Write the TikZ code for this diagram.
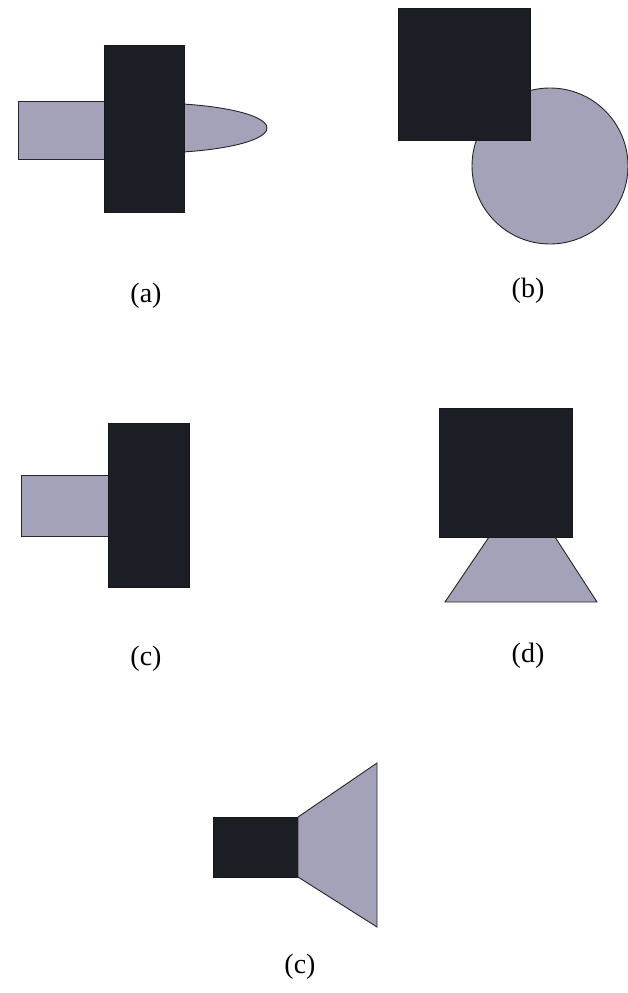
\documentclass[tikz,border=0pt]{standalone}
\usepackage{fontspec}
\setmainfont{Liberation Serif}
\usepackage{tikz}
\usetikzlibrary{positioning}

\definecolor{darkblock}{RGB}{28,30,38}
\definecolor{lightblock}{RGB}{163,162,185}

\tikzset{
    darkpart/.style={fill=darkblock,draw=darkblock!80!black,thin},
    lightpart/.style={fill=lightblock,draw=black!85,line width=0.9pt},
    caption/.style={font=\fontsize{28}{32}\selectfont}
}

\begin{document}
\begin{tikzpicture}[x=1pt,y=-1pt]
        \useasboundingbox (0,0) rectangle (628,993);

        % (a)
        \draw[lightpart] (150,128) ellipse (117 and 25);
        \draw[lightpart] (18,101) rectangle (150,159);
        \fill[darkpart] (104,45) rectangle (184,212);
        \node[caption] (capa) at (146,296) {(a)};

        % (b)
        \draw[lightpart] (550,166) circle (78);
        \fill[darkpart] (398,8) rectangle (530,140);
        \node[caption] (capb) at (528,291) {(b)};

        % (c)
        \draw[lightpart] (21,475) rectangle (112,536);
        \fill[darkpart] (108,423) rectangle (189,587);
        \node[caption] (capc) at (146,659) {(c)};

        % (d)
        \draw[lightpart] (489,537) -- (555,537) -- (597,602) -- (445,602) -- cycle;
        \fill[darkpart] (439,408) rectangle (572,537);
        \node[caption] (capd) at (528,656) {(d)};

        % (e)
        \fill[darkpart] (213,817) rectangle (298,877);
        \draw[lightpart] (298,817) -- (377,763) -- (377,927) -- (298,877) -- cycle;
        \node[caption] (cape) at (300,967) {(c)};
    \end{tikzpicture}
\end{document}
